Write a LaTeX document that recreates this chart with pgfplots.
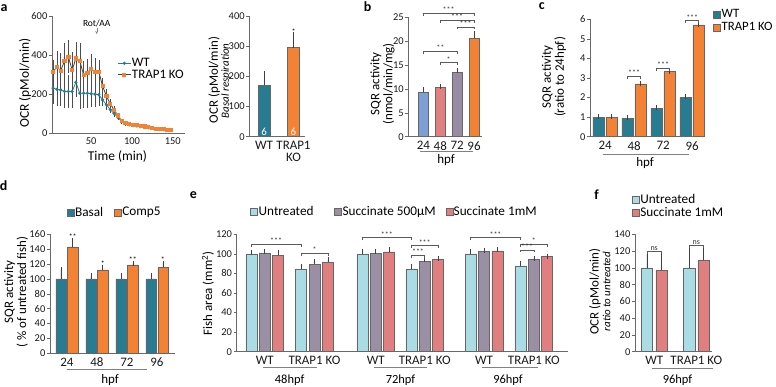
\documentclass[border=0pt]{standalone}
\usepackage{pgfplots}
\pgfplotsset{compat=1.18}
\usepackage{pgfplotstable}
\usepackage{fontspec}
\setmainfont{Carlito}

\definecolor{teal1}{RGB}{40,124,146}
\definecolor{orng}{RGB}{244,130,52}
\definecolor{bblue}{RGB}{124,160,214}
\definecolor{bpink}{RGB}{224,128,128}
\definecolor{bpurp}{RGB}{152,140,164}
\definecolor{ltblue}{RGB}{170,220,230}
\definecolor{epurp}{RGB}{155,143,166}
\definecolor{epink}{RGB}{224,126,128}
\definecolor{axisgray}{RGB}{105,105,105}
\definecolor{brkgray}{RGB}{90,90,90}

\newcommand{\fsz}[1]{\fontsize{#1}{#1}\selectfont}
\newcommand{\sig}[4]{%
  \draw[brkgray, line width=0.5pt] (axis cs:#1,#3) ++(0bp,-2.5bp) -- ++(0bp,2.5bp)
     -- node[above, inner sep=0.4bp, font=\fsz{8}, text=black!80] {#4} (axis cs:#2,#3) -- ++(0bp,-2.5bp);}

\pgfplotstableread{
t wt wte ko koe
3.3 230 80 314 60
8.0 224 85 340 80
12.6 221 80 320 90
17.3 213 85 369 95
22.0 213 85 391 85
26.7 213 85 323 90
31.3 260 75 383 85
36.0 204 80 371 90
40.7 204 75 298 70
45.3 204 75 310 70
50.0 201 70 328 75
54.7 199 65 315 70
59.4 196 60 315 60
64.0 170 30 240 40
68.7 145 25 190 35
73.4 120 20 150 25
78.0 100 18 120 20
82.7 80 15 90 15
87.4 60 12 62 12
92.0 48 10 50 10
96.7 42 8 45 9
101.4 38 8 42 8
106.0 36 7 40 7
110.7 33 6 37 6
115.4 30 6 34 6
120.0 27 5 30 5
124.7 24 5 26 5
129.4 20 4 22 4
134.0 18 4 20 4
138.7 17 4 19 4
143.4 15 3 17 4
148.0 13 3 15 3
}\ocr

\pgfplotsset{
  base/.style={
    scale only axis, anchor=south west, clip=false,
    axis x line*=bottom, axis y line*=left,
    axis line style={draw=axisgray, line width=0.7pt},
    ytick style={draw=axisgray, line width=0.6pt},
    xtick style={draw=none},
    major tick length=3bp,
    tick align=outside,
    ymin=0,
    yticklabel style={font=\fsz{10.5}, text=black!90, inner sep=1.5pt},
    xticklabel style={font=\fsz{13}, text=black!90, inner sep=1.5pt},
    /pgf/number format/assume math mode=true,
  },
  bars/.style={ybar,
    every axis plot/.append style={draw=black!60, line width=0.5pt,
      error bars/y dir=plus, error bars/y explicit,
      error bars/error bar style={black!75, line width=0.6pt},
      error bars/error mark options={black!75, line width=0.6pt, mark size=2.5bp}}},
  sq/.style={legend image code/.code={\draw[##1, line width=0.4pt] (0bp,-3.5bp) rectangle (7bp,3.5bp);}},
  leg/.style={draw=none, fill=none, font=\fsz{13.3}, inner sep=0pt, nodes={inner sep=0.8bp}, row sep=0bp},
}

\begin{document}
\begin{tikzpicture}
\path[use as bounding box] (0,0) rectangle (776bp,387bp);

% ---------- panel a: OCR time course
\begin{axis}[base, at={(52bp,254bp)}, width=133bp, height=117bp,
  xmin=2, xmax=165, ymax=600, ytick={0,200,400,600}, xtick={50,100,150},
  xticklabel style={font=\fsz{10.5}},
  legend style={leg, at={(0.49,0.547)}, anchor=west, font=\fsz{13}},
  legend cell align=left,
  legend image code/.code={\draw[#1, mark repeat=2, mark phase=2] plot coordinates {(0bp,0bp) (6.5bp,0bp) (13bp,0bp)};}]
\addplot[teal1, line width=0.8pt, mark=*, mark size=1.2bp,
  error bars/.cd, y dir=both, y explicit, error bar style={black!70, line width=0.4pt}, error mark=none]
  table[x=t, y=wt, y error=wte] {\ocr};
\addlegendentry{WT}
\addplot[black!75, line width=0.8pt, mark=square*, mark options={orng, fill=orng}, mark size=1.6bp,
  error bars/.cd, y dir=both, y explicit, error bar style={black!70, line width=0.4pt}, error mark=none]
  table[x=t, y=ko, y error=koe] {\ocr};
\addlegendentry{TRAP1 KO}
\end{axis}

% ---------- panel a: basal respiration
\begin{axis}[base, bars, at={(249.3bp,250.3bp)}, width=55.7bp, height=120.7bp,
  xmin=-0.5, xmax=1.39, ymax=400, ytick={0,100,200,300,400},
  xtick={0,1}, xticklabels={WT,{TRAP1\\KO}},
  xticklabel style={align=center, font=\fontsize{13}{12}\selectfont}]
\addplot[fill=teal1, bar width=12bp, bar shift=0bp] coordinates {(0,172) +- (0,38)};
\addplot[fill=orng, bar width=12bp, bar shift=0bp] coordinates {(1,295) +- (0,43)};
\node[text=white, font=\fsz{11}] at (axis cs:0,17) {6};
\node[text=white, font=\fsz{11}] at (axis cs:1,17) {6};
\node[above, inner sep=0.5bp, font=\fsz{8}] at (axis cs:1,338) {*};
\end{axis}

% ---------- panel b
\begin{axis}[base, bars, at={(408.3bp,250.3bp)}, width=73.7bp, height=119.4bp,
  xmin=-0.89, xmax=3.47, ymax=25, ytick={0,5,10,15,20,25},
  xtick={0,1,2,3}, xticklabels={24,48,72,96}]
\addplot[fill=bblue, bar width=10bp, bar shift=0bp] coordinates {(0,9.3) +- (0,0.6)};
\addplot[fill=bpink, bar width=10bp, bar shift=0bp] coordinates {(1,10.4) +- (0,0.15)};
\addplot[fill=bpurp, bar width=10bp, bar shift=0bp] coordinates {(2,13.5) +- (0,0.4)};
\addplot[fill=orng, bar width=10bp, bar shift=0bp] coordinates {(3,20.7) +- (0,1.0)};
\sig{0}{3}{25.8}{***}
\sig{1}{3}{24.3}{***}
\sig{2}{3}{23.0}{***}
\sig{0}{2}{17.9}{**}
\sig{1}{2}{15.5}{*}
\end{axis}

% ---------- panel c
\begin{axis}[base, bars, at={(590bp,250.3bp)}, width=115bp, height=117.4bp,
  xmin=-0.52, xmax=3.44, ymax=6, ytick={0,1,2,3,4,5,6},
  xtick={0,1,2,3}, xticklabels={24,48,72,96},
  legend style={leg, font=\fsz{12.8}, row sep=1.5bp, at={(1.072,1.09)}, anchor=north west}, legend cell align=left]
\addplot[fill=teal1, bar width=11.5bp, bar shift=-6.5bp, sq] coordinates {(0,1.0) +- (0,0.02) (1,0.95) +- (0,0.02) (2,1.45) +- (0,0.05) (3,2.0) +- (0,0.03)};
\addlegendentry{WT}
\addplot[fill=orng, bar width=11.5bp, bar shift=6.5bp, sq] coordinates {(0,1.0) +- (0,0.05) (1,2.7) +- (0,0.02) (2,3.33) +- (0,0.02) (3,5.72) +- (0,0.02)};
\addlegendentry{TRAP1 KO}
\sig{0.776}{1.224}{3.07}{***}
\sig{1.776}{2.224}{3.5}{***}
\sig{2.776}{3.224}{5.93}{***}
\end{axis}

% ---------- panel d
\begin{axis}[base, bars, at={(50bp,33.7bp)}, width=125bp, height=119bp,
  xmin=-0.56, xmax=3.6, ymax=160, ytick={0,20,...,160},
  xtick={0,1,2,3}, xticklabels={24,48,72,96},
  legend style={leg, at={(0.134,1.185)}, anchor=west, /tikz/every even column/.append style={column sep=10bp}},
  legend columns=2]
\addplot[fill=teal1, bar width=10.2bp, bar shift=-5.9bp, sq] coordinates {(0,100) +- (0,12) (1,100) +- (0,4) (2,100) +- (0,5) (3,100) +- (0,4)};
\addlegendentry{Basal}
\addplot[fill=orng, bar width=10.2bp, bar shift=5.9bp, sq] coordinates {(0,143) +- (0,8) (1,112) +- (0,3) (2,119) +- (0,2) (3,116) +- (0,5)};
\addlegendentry{Comp5}
\node[above, inner sep=1bp, font=\fsz{8}, xshift=5.9bp] at (axis cs:0,151) {**};
\node[above, inner sep=1bp, font=\fsz{8}, xshift=5.9bp] at (axis cs:1,115) {*};
\node[above, inner sep=1bp, font=\fsz{8}, xshift=5.9bp] at (axis cs:2,121) {**};
\node[above, inner sep=1bp, font=\fsz{8}, xshift=5.9bp] at (axis cs:3,121) {*};
\end{axis}

% ---------- panel e
\begin{axis}[base, bars, at={(236.7bp,35.3bp)}, width=331.3bp, height=117.4bp,
  xmin=0, xmax=331.3, ymax=120, ytick={0,20,...,120},
  xtick={28,77.8,139,188,247.3,297.1}, xticklabels={WT,TRAP1 KO,WT,TRAP1 KO,WT,TRAP1 KO},
  legend style={leg, at={(0.041,1.193)}, anchor=west,
    /tikz/column 2/.style={column sep=20bp}, /tikz/column 4/.style={column sep=9bp}},
  legend columns=3]
\addplot[fill=ltblue, bar width=11bp, bar shift=-13.4bp, sq] coordinates {(28,100) +- (0,1.5) (77.8,84.5) +- (0,3) (139,100) +- (0,2.5) (188,84.5) +- (0,3) (247.3,100) +- (0,2) (297.1,87.6) +- (0,3)};
\addlegendentry{Untreated}
\addplot[fill=epurp, bar width=11bp, bar shift=0bp, sq] coordinates {(28,101) +- (0,1.5) (77.8,89.6) +- (0,2.5) (139,100.5) +- (0,1.5) (188,92.3) +- (0,1.5) (247.3,102.5) +- (0,1) (297.1,94.7) +- (0,1)};
\addlegendentry{Succinate 500µM}
\addplot[fill=epink, bar width=11bp, bar shift=13.4bp, sq] coordinates {(28,98.8) +- (0,2.5) (77.8,91.4) +- (0,2.5) (139,102) +- (0,2) (188,94.4) +- (0,1) (247.3,103) +- (0,1) (297.1,97.1) +- (0,0.5)};
\addlegendentry{Succinate 1mM}
\sig{14.6}{64.4}{109.8}{***}
\sig{64.4}{91.2}{100.6}{*}
\sig{125.6}{174.6}{116.5}{***}
\sig{174.6}{201.4}{108.3}{***}
\sig{174.6}{188}{98.8}{***}
\sig{233.9}{283.7}{116.5}{***}
\sig{283.7}{310.5}{109.8}{*}
\sig{283.7}{297.1}{104}{***}
\end{axis}

% ---------- panel f
\begin{axis}[base, bars, at={(635bp,35.3bp)}, width=76.7bp, height=117.4bp,
  xmin=0, xmax=76.7, ymax=140, ytick={0,20,...,140},
  xtick={19.2,61.3}, xticklabels={WT,TRAP1 KO},
  legend style={leg, row sep=0.5bp, at={(-0.04,1.35)}, anchor=north west}, legend cell align=left]
\addplot[fill=ltblue, bar width=11.5bp, bar shift=-7.3bp, sq] coordinates {(19.2,100) +- (0,16) (61.3,100) +- (0,24)};
\addlegendentry{Untreated}
\addplot[fill=epink, bar width=11.5bp, bar shift=7.3bp, sq] coordinates {(19.2,97) +- (0,17) (61.3,109) +- (0,12)};
\addlegendentry{Succinate 1mM}
\sig{11.9}{26.5}{120}{ns}
\sig{54}{68.6}{127}{ns}
\end{axis}

% ---------- annotations (y measured from top)
\begin{scope}[x=1bp, y=-1bp, yshift=387bp]
\foreach \l/\x/\y in {a/4/8, b/367.5/7, c/541.7/6, d/3.5/186, e/193.5/195, f/596.7/195}
  \node[font=\bfseries\fsz{14}] at (\x,\y) {\l};
% a
\node[rotate=90, font=\fsz{13.5}] at (25,83) {OCR (pMol/min)};
\node[font=\fsz{13.5}] at (117.5,156.7) {Time (min)};
\node[font=\fsz{9.5}] at (96.7,23.3) {Rot/AA};
\draw[->, gray, line width=0.4pt, >=stealth] (96.7,28.5) -- (96.7,34);
\node[rotate=90, font=\fsz{13}] at (214.3,80) {OCR (pMol/min)};
\node[rotate=90, font=\itshape\fsz{11}] at (226,80.7) {Basal respiration};
% b
\node[rotate=90, font=\fontsize{13}{13}\selectfont, align=center] at (382.5,84) {SQR activity\\(nmol/min/mg)};
\draw[gray, line width=0.7pt] (420,151.7) -- (472.7,151.7);
\node[font=\fsz{13}] at (446,160) {hpf};
% c
\node[rotate=90, font=\fontsize{13}{13}\selectfont, align=center] at (554,77) {SQR activity\\(ratio to 24hpf)};
\draw[gray, line width=0.7pt] (602.7,154) -- (689,154);
\node[font=\fsz{13}] at (645,163.3) {hpf};
% d
\node[rotate=90, font=\fontsize{13}{13}\selectfont, align=center] at (16,292) {SQR activity\\( \% of untreated fish)};
\draw[gray, line width=0.7pt] (66.7,369) -- (146.7,369);
\node[font=\fsz{13}] at (110,380) {hpf};
% e
\node[rotate=90, font=\fsz{13}] at (208,293.3) {Fish area (mm\textsuperscript{2})};
\draw[gray, line width=0.7pt] (263,367.7) -- (316.7,367.7);
\draw[gray, line width=0.7pt] (374.3,367.7) -- (427.3,367.7);
\draw[gray, line width=0.7pt] (482,367.7) -- (538,367.7);
\node[font=\fsz{12.5}] at (289.6,380) {48hpf};
\node[font=\fsz{12.5}] at (400.5,380) {72hpf};
\node[font=\fsz{12.5}] at (508,380) {96hpf};
% f
\node[rotate=90, font=\fsz{13}] at (595,291.7) {OCR (pMol/min)};
\node[rotate=90, font=\itshape\fsz{11}] at (606.5,291.7) {ratio to untreated};
\draw[gray, line width=0.7pt] (651.7,368.3) -- (713.3,368.3);
\node[font=\fsz{12.5}] at (677.5,380) {96hpf};
\end{scope}
\end{tikzpicture}
\end{document}
